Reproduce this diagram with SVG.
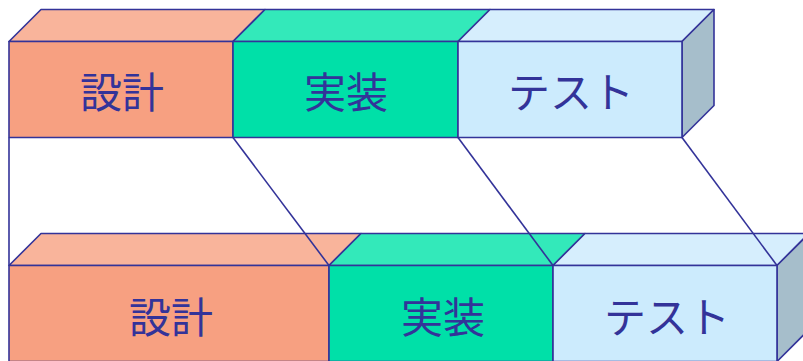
<svg xmlns="http://www.w3.org/2000/svg" width="803" height="361" viewBox="0 0 803 361">
<style>
.e{stroke:#333399;stroke-width:1.6;stroke-linejoin:round}
.f1{fill:#F7A081}.t1{fill:#F9B49B}
.f2{fill:#00E0A8}.t2{fill:#33E9BA}
.f3{fill:#CCEBFD}.t3{fill:#D6EEFD}.s3{fill:#A6BECB}
.lbl{font-family:"Noto Sans CJK JP",sans-serif;font-size:42px;font-weight:400;fill:#333399;text-anchor:middle;dominant-baseline:central}
.c{stroke:#333399;stroke-width:1.6;fill:none}
</style>
<rect width="803" height="361" fill="#FFFFFF"/>
<g id="top-design">
<polygon class="e t1" points="9,41.5 41,9.5 265,9.5 233,41.5"/>
<rect class="e f1" x="9" y="41.5" width="224" height="96"/>
<text class="lbl" x="122" y="89">設計</text>
</g>
<g id="top-impl">
<polygon class="e t2" points="233,41.5 265,9.5 490,9.5 458,41.5"/>
<rect class="e f2" x="233" y="41.5" width="225" height="96"/>
<text class="lbl" x="346" y="89">実装</text>
</g>
<g id="top-test">
<polygon class="e t3" points="458,41.5 490,9.5 714,9.5 682,41.5"/>
<polygon class="e s3" points="682,41.5 714,9.5 714,105.5 682,137.5"/>
<rect class="e f3" x="458" y="41.5" width="224" height="96"/>
<text class="lbl" x="571" y="89">テスト</text>
</g>
<g id="bottom-design">
<polygon class="e t1" points="9,265.5 41,233.5 361,233.5 329,265.5"/>
<rect class="e f1" x="9" y="265.5" width="320" height="96"/>
<text class="lbl" x="171" y="314">設計</text>
</g>
<g id="bottom-impl">
<polygon class="e t2" points="329,265.5 361,233.5 585,233.5 553,265.5"/>
<rect class="e f2" x="329" y="265.5" width="224" height="96"/>
<text class="lbl" x="443" y="314">実装</text>
</g>
<g id="bottom-test">
<polygon class="e t3" points="553,265.5 585,233.5 809,233.5 777,265.5"/>
<polygon class="e s3" points="777,265.5 809,233.5 809,329.5 777,361.5"/>
<rect class="e f3" x="553" y="265.5" width="224" height="96"/>
<text class="lbl" x="667" y="314">テスト</text>
</g>
<g id="connectors">
<line class="c" x1="9" y1="137.5" x2="9" y2="265.5"/>
<line class="c" x1="233" y1="137.5" x2="329" y2="265.5"/>
<line class="c" x1="458" y1="137.5" x2="553" y2="265.5"/>
<line class="c" x1="682" y1="137.5" x2="777" y2="265.5"/>
</g>
</svg>
